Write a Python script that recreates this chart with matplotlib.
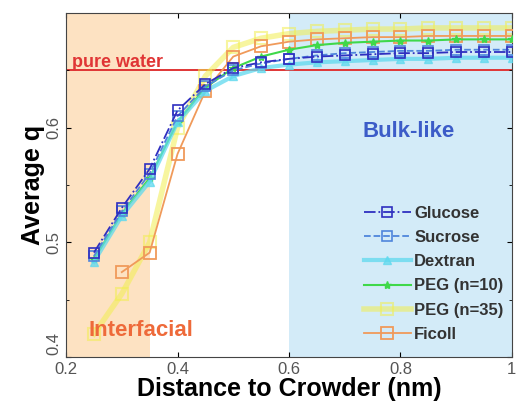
import numpy as np
import matplotlib.pyplot as plt
from matplotlib.ticker import MultipleLocator
from matplotlib.transforms import ScaledTranslation

x = [0.25, 0.30, 0.35, 0.40, 0.45, 0.50, 0.55, 0.60,
     0.65, 0.70, 0.75, 0.80, 0.85, 0.90, 0.95, 1.00]

glucose = [0.491, 0.530, 0.564, 0.615, 0.638, 0.652, 0.657, 0.660,
           0.662, 0.663, 0.664, 0.665, 0.665, 0.666, 0.666, 0.666]
sucrose = [0.488, 0.527, 0.560, 0.610, 0.636, 0.650, 0.656, 0.660,
           0.663, 0.665, 0.666, 0.667, 0.667, 0.668, 0.668, 0.668]
dextran = [0.483, 0.523, 0.553, 0.605, 0.632, 0.645, 0.652, 0.655,
           0.657, 0.658, 0.659, 0.660, 0.660, 0.661, 0.661, 0.661]
peg10 = [0.485, 0.525, 0.556, 0.605, 0.635, 0.652, 0.662, 0.668,
         0.672, 0.674, 0.675, 0.676, 0.676, 0.677, 0.677, 0.677]
peg35 = [0.420, 0.455, 0.500, 0.600, 0.645, 0.670, 0.678, 0.682,
         0.684, 0.685, 0.686, 0.686, 0.687, 0.687, 0.687, 0.687]
ficoll = [np.nan, 0.474, 0.491, 0.577, 0.632, 0.662, 0.671, 0.675,
          0.677, 0.678, 0.679, 0.679, 0.680, 0.680, 0.680, 0.680]

pure_water = 0.65
interfacial_edge = 0.35
bulk_edge = 0.6

plt.rcParams['font.family'] = ['Liberation Sans', 'DejaVu Sans']

fig = plt.figure(figsize=(5.16, 4.07), dpi=100)
ax = fig.add_axes([0.128, 0.123, 0.864, 0.845])

ax.axvspan(0.2, interfacial_edge, color='#fde2c2', lw=0, zorder=0)
ax.axvspan(bulk_edge, 1.0, color='#d3ebf8', lw=0, zorder=0)
ax.axhline(pure_water, color='#e03535', lw=1.4, zorder=1)

ax.plot(x, peg35, '-s', color='#f2ee50', lw=4, ms=8, mfc='none', mew=1.5,
        alpha=0.55, label='PEG (n=35)', zorder=2)
ax.plot(x, ficoll, '-s', color='#f09a5a', lw=1.3, ms=8, mfc='none', mew=1.3,
        label='Ficoll', zorder=3)
ax.plot(x, peg10, '-*', color='#3fd84a', lw=1.5, ms=6,
        label='PEG (n=10)', zorder=3)
ax.plot(x, dextran, '-^', color='#5fd9ee', lw=3, ms=6, alpha=0.75,
        label='Dextran', zorder=3)
ax.plot(x, sucrose, '--s', color='#4f86dc', lw=1.3, ms=7, mfc='none', mew=1.2,
        label='Sucrose', zorder=4)
ax.plot(x, glucose, '-.s', color='#2f2fc0', lw=1.3, ms=7, mfc='none', mew=1.2,
        label='Glucose', zorder=5)

ax.text(0.21, 0.657, 'pure water', color='#e03535', fontsize=13,
        fontweight='bold', va='center', ha='left')
ax.text(0.815, 0.597, 'Bulk-like', color='#3c5cc8', fontsize=16,
        fontweight='bold', va='center', ha='center')
ax.text(0.335, 0.423, 'Interfacial', color='#ee6a3a', fontsize=16,
        fontweight='bold', va='center', ha='center')

h, l = ax.get_legend_handles_labels()
order = ['Glucose', 'Sucrose', 'Dextran', 'PEG (n=10)', 'PEG (n=35)', 'Ficoll']
hs = [h[l.index(k)] for k in order]
leg = ax.legend(hs, order, loc='lower right', frameon=False, fontsize=12,
                handlelength=2.8, labelspacing=0.55, borderaxespad=0.1,
                handletextpad=0.2, bbox_to_anchor=(1.0, 0.02))
for t in leg.get_texts():
    t.set_fontweight('bold')
    t.set_color('#333333')

ax.set_xlim(0.2, 1.0)
ax.set_ylim(0.4, 0.7)
ax.set_xticks([0.2, 0.4, 0.6, 0.8, 1.0])
ax.set_xticklabels(['0.2', '0.4', '0.6', '0.8', '1'])
ax.set_yticks([0.4, 0.5, 0.6])
ax.yaxis.set_minor_locator(MultipleLocator(0.05))
ax.tick_params(direction='in', labelsize=12, labelcolor='#555555',
               top=True, right=True)
ax.tick_params(which='minor', direction='in', right=True)
for lab in ax.get_yticklabels():
    lab.set_rotation(90)
    lab.set_va('center')
ylabs = ax.get_yticklabels()
ylabs[0].set_transform(ylabs[0].get_transform() +
                       ScaledTranslation(0, 10 / 72, fig.dpi_scale_trans))

ax.set_xlabel('Distance to Crowder (nm)', fontsize=18, fontweight='bold',
              labelpad=0)
ax.set_ylabel('Average q', fontsize=18, fontweight='bold', labelpad=1)
for s in ax.spines.values():
    s.set_color('#444444')

fig.savefig('out.png', dpi=100)
